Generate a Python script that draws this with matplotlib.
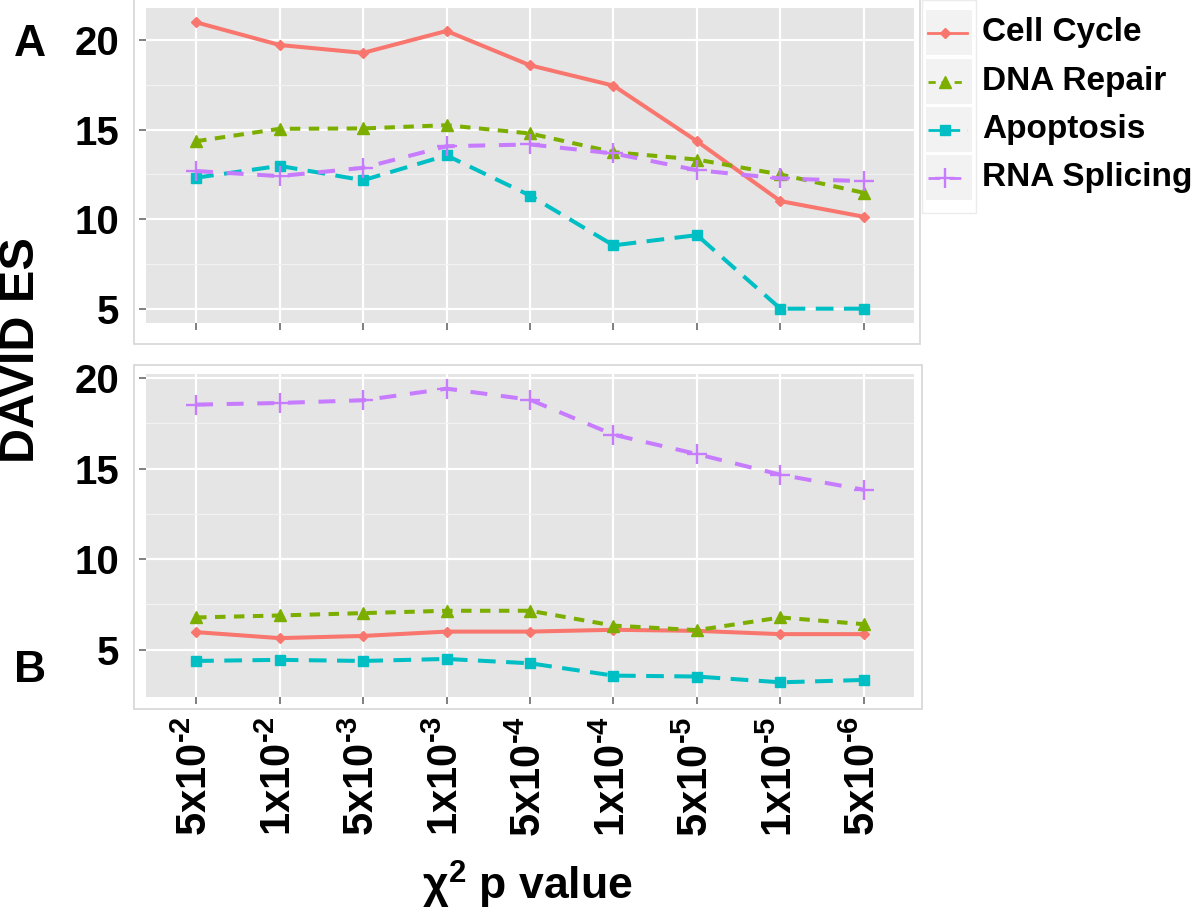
import numpy as np
import matplotlib
matplotlib.use('Agg')
import matplotlib.pyplot as plt
from matplotlib.patches import Rectangle

plt.rcParams['font.family'] = ['Liberation Sans', 'DejaVu Sans']
plt.rcParams['font.weight'] = 'bold'
plt.rcParams['mathtext.fontset'] = 'custom'
plt.rcParams['mathtext.rm'] = 'Liberation Sans:bold'
plt.rcParams['mathtext.bf'] = 'Liberation Sans:bold'
plt.rcParams['mathtext.it'] = 'Liberation Sans:bold'
plt.rcParams['mathtext.default'] = 'bf'

# data
p_labels = ['5x10$^{\\text{-2}}$', '1x10$^{\\text{-2}}$', '5x10$^{\\text{-3}}$',
            '1x10$^{\\text{-3}}$', '5x10$^{\\text{-4}}$', '1x10$^{\\text{-4}}$',
            '5x10$^{\\text{-5}}$', '1x10$^{\\text{-5}}$', '5x10$^{\\text{-6}}$']
series_names = ['Cell Cycle', 'DNA Repair', 'Apoptosis', 'RNA Splicing']

a_cell_cycle = [20.96, 19.70, 19.26, 20.48, 18.57, 17.44, 14.35, 11.02, 10.15]
a_dna_repair = [14.35, 15.04, 15.06, 15.24, 14.78, 13.74, 13.33, 12.50, 11.48]
a_apoptosis = [12.32, 12.98, 12.18, 13.56, 11.33, 8.56, 9.13, 5.04, 5.04]
a_rna_splicing = [12.69, 12.41, 12.87, 14.07, 14.17, 13.67, 12.74, 12.28, 12.13]

b_cell_cycle = [5.97, 5.64, 5.76, 6.00, 6.00, 6.10, 6.04, 5.86, 5.86]
b_dna_repair = [6.78, 6.89, 7.02, 7.15, 7.15, 6.33, 6.08, 6.78, 6.41]
b_apoptosis = [4.38, 4.44, 4.38, 4.49, 4.25, 3.57, 3.52, 3.20, 3.33]
b_rna_splicing = [18.53, 18.62, 18.77, 19.41, 18.80, 16.87, 15.80, 14.66, 13.83]

colors = ['#F8766D', '#7CAE00', '#00BFC4', '#C77CFF']
styles = [
    dict(linestyle='-', marker='D', markersize=5.5),
    dict(linestyle=(0, (2.6, 2.1)), marker='^', markersize=8),
    dict(linestyle=(0, (4.4, 2.6)), marker='s', markersize=6.5),
    dict(linestyle=(0, (4.2, 3.4)), marker='+', markersize=14, markeredgewidth=1.7),
]

W, H = 1200, 917
fig = plt.figure(figsize=(W / 100, H / 100), dpi=100)


def fx(px):
    return px / W


def fy(py):
    return 1 - py / H


# white plot backgrounds with light borders
for (x0, y0, x1, y1) in [(134, -2, 920, 344), (134, 365, 922, 709)]:
    fig.patches.append(Rectangle((fx(x0), fy(y1)), fx(x1 - x0), (y1 - y0) / H,
                                 transform=fig.transFigure, facecolor='white',
                                 edgecolor='#D6D6D6', lw=1.2, zorder=-5))

ax_a = fig.add_axes([fx(146), fy(323), fx(914 - 146), (323 - 8) / H])
ax_b = fig.add_axes([fx(146), fy(697), fx(914 - 146), (697 - 374) / H])

x = np.arange(1, len(p_labels) + 1)
panels = [
    (ax_a, [a_cell_cycle, a_dna_repair, a_apoptosis, a_rna_splicing]),
    (ax_b, [b_cell_cycle, b_dna_repair, b_apoptosis, b_rna_splicing]),
]

for ax, data in panels:
    ax.set_zorder(2)
    ax.set_facecolor('#E5E5E5')
    for vals, c, st in zip(data, colors, styles):
        ax.plot(x, vals, color=c, lw=2.9, markeredgecolor=c, markerfacecolor=c, **st,
                zorder=3)
    lo = min(min(v) for v in data)
    hi = max(max(v) for v in data)
    pad = (hi - lo) * 0.05
    ax.set_ylim(lo - pad, hi + pad)
    ax.set_xlim(0.4, len(p_labels) + 0.6)
    ax.set_yticks([5, 10, 15, 20])
    ax.set_yticks([7.5, 12.5, 17.5], minor=True)
    ax.set_xticks(x)
    ax.grid(True, which='major', color='white', lw=1.6, zorder=1)
    ax.grid(True, which='minor', axis='y', color='#F2F2F2', lw=0.9, zorder=1)
    ax.set_axisbelow(True)
    for s in ax.spines.values():
        s.set_visible(False)
    ax.tick_params(axis='both', which='major', length=5, width=1.4, color='#7F7F7F',
                   labelsize=29)
    ax.tick_params(axis='y', which='major', pad=14)
    ax.tick_params(axis='y', which='minor', length=0)
    for lab in ax.get_yticklabels():
        lab.set_fontweight('bold')

ax_a.set_xticklabels([])
ax_b.set_xticklabels(p_labels, rotation=90, fontsize=30, fontweight='bold')
ax_b.tick_params(axis='x', pad=9)

# panel letters and axis titles
fig.text(fx(30), fy(45), 'A', fontsize=32, fontweight='bold', ha='center', va='center')
fig.text(fx(30), fy(671), 'B', fontsize=32, fontweight='bold', ha='center', va='center')
fig.text(fx(22), fy(350), 'DAVID ES', fontsize=35, fontweight='bold', rotation=90,
         ha='center', va='center')
fig.text(fx(527), fy(885), 'χ$^{2}$ p value', fontsize=32, fontweight='bold',
         ha='center', va='center')

# legend
fig.patches.append(Rectangle((fx(922), fy(213)), fx(976 - 922), 213 / H,
                             transform=fig.transFigure, facecolor='white',
                             edgecolor='#EBEBEB', lw=1, zorder=-5))
lax = fig.add_axes([fx(926), fy(200), fx(972 - 926), (200 - 10) / H])
lax.set_xlim(0, 46)
lax.set_ylim(190, 0)
lax.axis('off')
row_tops = [0, 49, 97, 145]
for i, (name, c, st) in enumerate(zip(series_names, colors, styles)):
    lax.add_patch(Rectangle((0, row_tops[i]), 46, 45, facecolor='#F2F2F2',
                            edgecolor='none'))
    yc = row_tops[i] + 22.5
    lax.plot([2, 41], [yc, yc], color=c, lw=2.0, linestyle=st['linestyle'], zorder=3)
    lax.plot([19], [yc], color=c, marker=st['marker'], markersize=st['markersize'],
             markeredgewidth=st.get('markeredgewidth', 1.0), markerfacecolor=c,
             markeredgecolor=c, zorder=4)
    fig.text(fx(982), fy(10 + yc), name, fontsize=24, fontweight='bold',
             ha='left', va='center')

fig.savefig('out.png', dpi=100)
